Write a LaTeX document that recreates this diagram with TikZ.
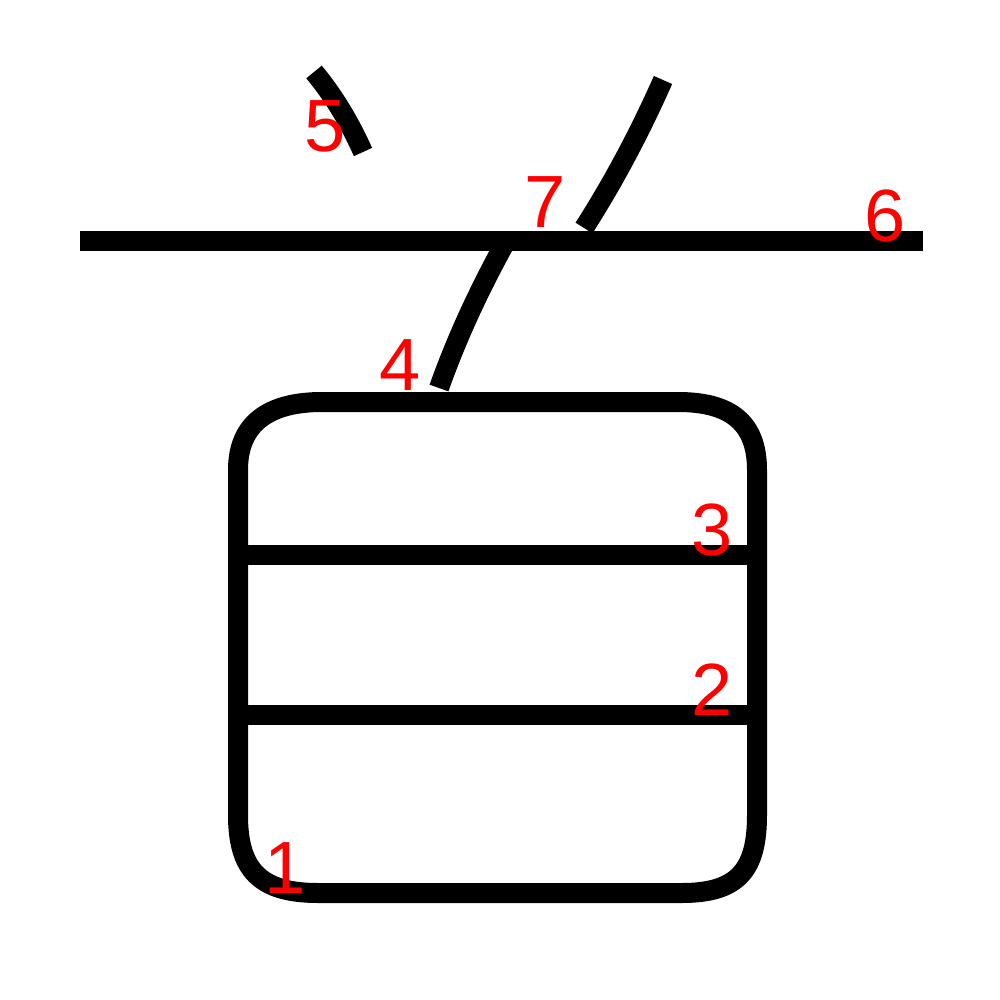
\documentclass[tikz,border=0pt]{standalone}
\usepackage{fontspec}
\setmainfont{Liberation Sans}
\definecolor{StrokeNum}{RGB}{255,0,0}
\tikzset{
  kstroke/.style={line width=20pt,line cap=butt},
  strokenum/.style={StrokeNum,font=\fontsize{74}{74}\selectfont,inner sep=0pt,anchor=base}
}

\begin{document}
\begin{tikzpicture}[x=1pt,y=-1pt]
\useasboundingbox (0,0) rectangle (1000,1000);
% outer box
\draw[kstroke] (238,470) .. controls (238,424) and (268,402) .. (322,402) -- (678,402)
  .. controls (732,402) and (757,424) .. (757,470) -- (757,815)
  .. controls (757,870) and (738,893) .. (682,893) -- (318,893)
  .. controls (260,893) and (238,870) .. (238,815) -- cycle;
% inner bars
\draw[kstroke] (238,555) -- (757,555);
\draw[kstroke] (238,715) -- (757,715);
% slanted strokes
\draw[kstroke] (505,243) .. controls (478,292) and (456,340) .. (439,388);
\draw[kstroke] (314,72) .. controls (334,96) and (350,123) .. (363,152);
\draw[kstroke] (663,80) .. controls (640,132) and (614,181) .. (584,228);
% long bar
\draw[kstroke] (80,241) -- (923,241);
% stroke numbers
\node[strokenum] (n1) at (285,893) {1};
\node[strokenum] (n2) at (712,715) {2};
\node[strokenum] (n3) at (712,555) {3};
\node[strokenum] (n4) at (400,390) {4};
\node[strokenum] (n5) at (325,152) {5};
\node[strokenum] (n6) at (885,241) {6};
\node[strokenum] (n7) at (545,228) {7};
\end{tikzpicture}
\end{document}
